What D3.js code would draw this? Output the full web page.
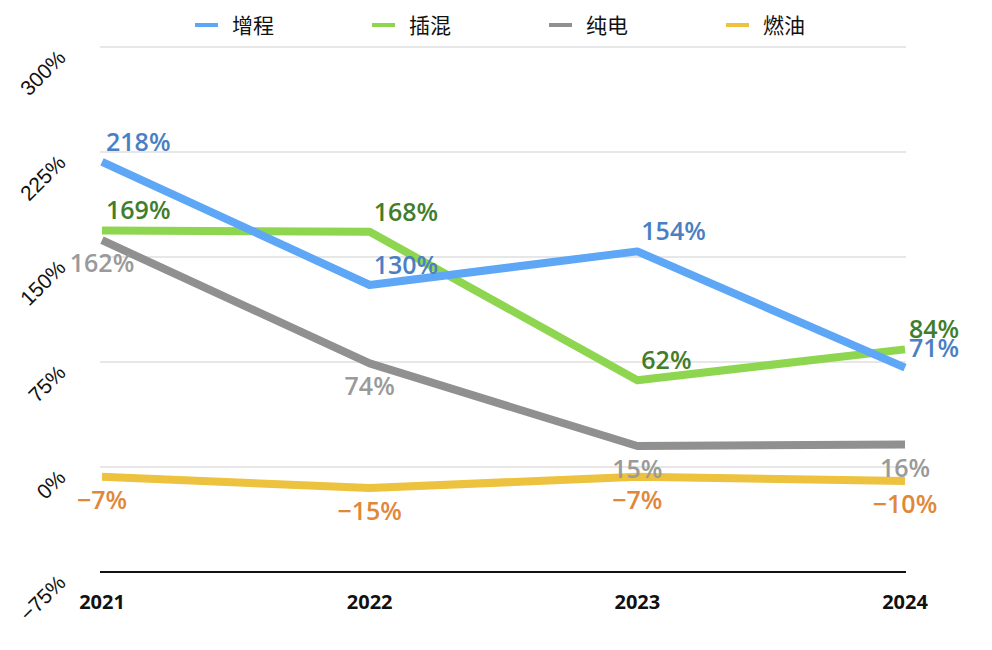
<!DOCTYPE html>
<html>
<head>
<meta charset="utf-8">
<script src="https://cdn.jsdelivr.net/npm/d3@7"></script>
<style>
  body { margin: 0; background: #fff; }
  text { font-family: "Open Sans", "Liberation Sans", sans-serif; }
</style>
</head>
<body>
<svg id="main-svg" width="992" height="650"></svg>
<script>
// data
const years = ['2021', '2022', '2023', '2024'];
const yTicks = [-75, 0, 75, 150, 225, 300];
const erev = [218, 130, 154, 71];   // 增程
const phev = [169, 168, 62, 84];    // 插混
const bev = [162, 74, 15, 16];      // 纯电
const ice = [-7, -15, -7, -10];     // 燃油

const series = [
    { name: '增程', values: erev, line: '#5ea7f6', label: '#4a7fc4', pos: 'above' },
    { name: '插混', values: phev, line: '#8ed64f', label: '#427d2a', pos: 'above' },
    { name: '纯电', values: bev, line: '#909090', label: '#9a9a9a', pos: 'below' },
    { name: '燃油', values: ice, line: '#ecc23f', label: '#e0883a', pos: 'below' },
];

const svg = d3.select('#main-svg');

const x = d3.scalePoint().domain(years).range([102, 905]);
const y = d3.scaleLinear().domain([-75, 300]).range([572, 47]);

// grid lines
svg.append('g')
    .selectAll('line')
    .data(yTicks)
    .enter()
    .append('line')
    .attr('x1', 100)
    .attr('x2', 906)
    .attr('y1', d => y(d))
    .attr('y2', d => y(d))
    .attr('stroke', d => d === -75 ? '#111' : '#cfcfcf')
    .attr('stroke-width', d => d === -75 ? 2 : 1.2);

// y labels, rotated
svg.append('g')
    .selectAll('text')
    .data(yTicks)
    .enter()
    .append('text')
    .attr('transform', d => `translate(67,${y(d) + 12}) rotate(-45)`)
    .attr('text-anchor', 'end')
    .attr('font-size', 21)
    .style('font-family', '"Liberation Sans", sans-serif')
    .attr('fill', '#111')
    .text(d => (d < 0 ? '\u2212' + Math.abs(d) : d) + '%');

// x labels
svg.append('g')
    .selectAll('text')
    .data(years)
    .enter()
    .append('text')
    .attr('x', d => x(d))
    .attr('y', 609)
    .attr('text-anchor', 'middle')
    .attr('font-size', 20)
    .attr('font-weight', 700)
    .attr('fill', '#111')
    .text(d => d);

// lines
const line = d3.line()
    .x((d, i) => x(years[i]))
    .y(d => y(d));

svg.append('g')
    .selectAll('path')
    .data(series.slice().reverse())
    .enter()
    .append('path')
    .attr('d', d => line(d.values))
    .attr('fill', 'none')
    .attr('stroke', d => d.line)
    .attr('stroke-width', 8)
    .attr('stroke-linejoin', 'round');

// value labels
series.forEach(s => {
    svg.append('g')
        .selectAll('text')
        .data(s.values)
        .enter()
        .append('text')
        .attr('x', (d, i) => s.pos === 'above' ? x(years[i]) + 4 : x(years[i]))
        .attr('y', d => s.pos === 'above' ? y(d) - 11 : y(d) + 32)
        .attr('text-anchor', s.pos === 'above' ? 'start' : 'middle')
        .attr('font-size', 25)
        .attr('font-weight', 600)
        .attr('fill', s.label)
        .text(d => (d < 0 ? '\u2212' + Math.abs(d) : d) + '%');
});

// legend
const legendX = [195, 372, 549, 726];
const legend = svg.append('g')
    .selectAll('g')
    .data(series)
    .enter()
    .append('g')
    .attr('transform', (d, i) => `translate(${legendX[i]},25)`);

legend.append('line')
    .attr('x1', 0)
    .attr('x2', 23)
    .attr('stroke', d => d.line)
    .attr('stroke-width', 4);

legend.append('text')
    .attr('x', 37)
    .attr('y', 8)
    .attr('font-size', 21)
    .style('font-family', '"Noto Sans CJK SC", sans-serif')
    .attr('fill', '#111')
    .text(d => d.name);
</script>
</body>
</html>
